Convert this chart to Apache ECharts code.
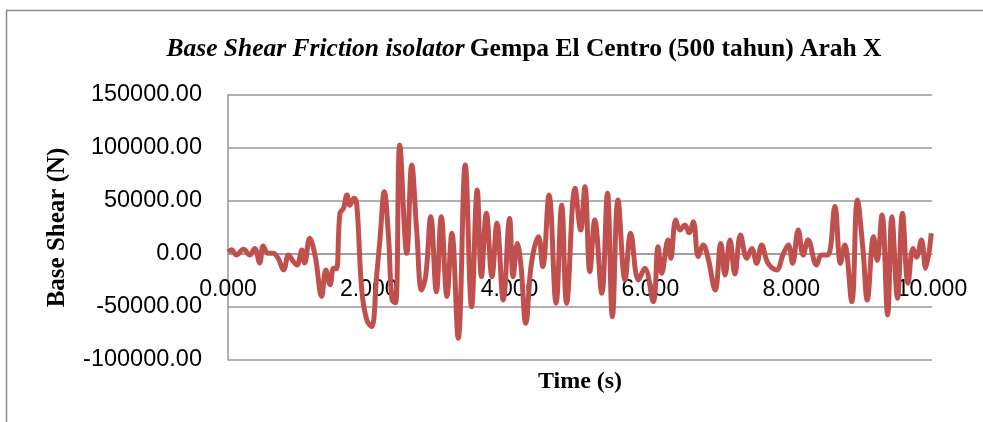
<!DOCTYPE html>
<html>
<head>
<meta charset="utf-8">
<script src="https://cdn.jsdelivr.net/npm/echarts@6/dist/echarts.min.js"></script>
<style>html,body{margin:0;padding:0;background:#fff}#c{width:983px;height:422px}</style>
</head>
<body>
<div id="c"></div>
<script>
const timeS = [0.00,0.05,0.12,0.22,0.31,0.38,0.45,0.50,0.57,0.64,0.71,0.79,0.86,0.93,0.98,1.05,1.09,1.16,1.24,1.33,1.39,1.45,1.50,1.54,1.59,1.64,1.69,1.73,1.79,1.83,1.90,1.97,2.04,2.11,2.16,2.22,2.28,2.33,2.38,2.44,2.54,2.61,2.68,2.75,2.81,2.88,2.96,3.03,3.11,3.18,3.27,3.37,3.46,3.54,3.60,3.67,3.75,3.82,3.91,4.00,4.05,4.11,4.16,4.23,4.31,4.41,4.47,4.56,4.66,4.74,4.81,4.93,5.01,5.07,5.14,5.21,5.31,5.39,5.46,5.54,5.64,5.72,5.83,5.92,6.04,6.11,6.16,6.25,6.29,6.36,6.42,6.49,6.55,6.61,6.68,6.75,6.82,6.92,7.00,7.06,7.13,7.20,7.28,7.37,7.44,7.51,7.58,7.67,7.79,7.89,7.96,8.02,8.10,8.17,8.24,8.36,8.43,8.52,8.62,8.70,8.76,8.86,8.94,9.02,9.08,9.17,9.22,9.29,9.37,9.43,9.51,9.58,9.66,9.73,9.78,9.85,9.91,9.99];
const baseShear = [2000,4000,-1000,4400,-1000,5300,-8500,7500,600,600,-3800,-15000,-1000,-7300,-10400,3800,-8500,14800,-2500,-40000,-15000,-29000,-13500,-14000,38400,43000,55700,46000,52500,46000,-34000,-62000,-68600,-21400,15000,58800,16300,-43400,-46000,102800,600,84000,22600,-34000,-20000,35200,-35500,35200,-40000,19500,-79500,84000,-49700,60400,-21400,38400,-21400,29000,-43400,33600,-21400,10000,-10000,-65400,-8800,16300,-12000,55700,-46500,46200,-46500,62000,22600,63500,-16700,32000,-37100,57200,-59100,50900,-24500,19500,-24500,-13500,-45000,6900,-18200,13200,-4100,32000,22600,27400,20000,30500,-2500,8500,-4000,-34000,10000,-19800,13200,-18900,17900,-4100,5300,-8800,8500,-8800,-15000,600,8500,-8800,22600,-1000,13200,-10400,-1000,-1000,44700,-8800,8500,-45000,50900,3800,-43400,16300,-6000,36800,-57500,35200,-41800,38400,-27600,5300,-3000,13200,-13500,19500];
const yTicks = [-100000,-50000,0,50000,100000,150000];
const xTicks = [0,2,4,6,8,10];

const seriesData = timeS.map((t,i)=>[t, baseShear[i]]);
const chart = echarts.init(document.getElementById('c'));
chart.setOption({
  animation:false,
  backgroundColor:'#fff',
  graphic:[
    {type:'rect',shape:{x:6.5,y:10.5,width:1100,height:600},style:{fill:'none',stroke:'#8c8c8c',lineWidth:1.5},silent:true,z:-10},
    {type:'text',x:580,y:370,style:{text:'Time (s)',font:'bold 24px "Liberation Serif"',fill:'#000',textAlign:'center',textVerticalAlign:'top'},silent:true}
  ],
  title:{
    left:519, top:31, textAlign:'center',
    text:'{i|Base Shear Friction isolator} {b|Gempa El Centro (500 tahun) Arah X}',
    textStyle:{rich:{
      i:{fontFamily:'Liberation Serif',fontStyle:'italic',fontWeight:'bold',fontSize:25.5,color:'#000'},
      b:{fontFamily:'Liberation Serif',fontWeight:'bold',fontSize:25.5,color:'#000'}
    }}
  },
  grid:{left:228,right:51,top:95,bottom:62,containLabel:false,outerBoundsMode:'none'},
  xAxis:{
    type:'value',min:xTicks[0],max:xTicks[xTicks.length-1],interval:2,
    position:'bottom',offset:-106,z:0,
    axisLine:{onZero:false,lineStyle:{color:'#999',width:1.5}},
    axisTick:{show:false},
    splitLine:{show:false},
    axisLabel:{margin:24,fontFamily:'Liberation Sans',fontSize:23,color:'#000',formatter:v=>v.toFixed(3)}
  },
  yAxis:{
    type:'value',min:yTicks[0],max:yTicks[yTicks.length-1],interval:50000,z:0,
    name:'Base Shear (N)',nameLocation:'middle',nameGap:158,nameRotate:90,
    nameTextStyle:{fontFamily:'Liberation Serif',fontWeight:'bold',fontSize:25,color:'#000'},
    axisLine:{show:true,lineStyle:{color:'#999',width:1.5}},
    axisTick:{show:false},
    splitLine:{lineStyle:{color:'#999',width:1.5}},
    axisLabel:{margin:26,fontFamily:'Liberation Sans',fontSize:23.5,color:'#000',formatter:v=>v.toFixed(2)}
  },
  series:[{
    type:'line',data:seriesData,smooth:0.4,showSymbol:false,z:20,zlevel:1,
    lineStyle:{color:'#C0504D',width:5},
    itemStyle:{color:'#C0504D'}
  }]
});
</script>
</body>
</html>
